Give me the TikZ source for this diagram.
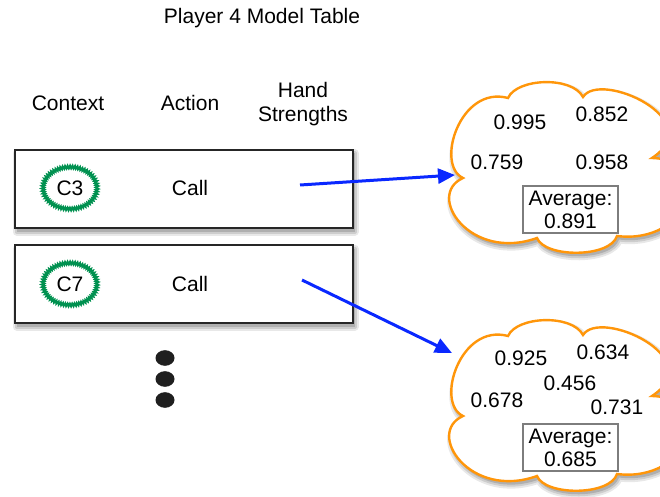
\documentclass[tikz,border=0pt]{standalone}
\usepackage{fontspec}
\setmainfont{Liberation Sans}
\usetikzlibrary{arrows.meta,shapes.geometric,decorations.pathmorphing}

\definecolor{ctxgreen}{RGB}{0,145,80}
\definecolor{linkblue}{RGB}{10,40,255}
\definecolor{puffborder}{RGB}{255,150,10}
\definecolor{avgframe}{RGB}{125,125,125}
\definecolor{shadeA}{RGB}{232,232,232}
\definecolor{shadeB}{RGB}{205,205,205}
\definecolor{shadeC}{RGB}{175,175,175}

\tikzset{
  % soft shadow: graded grey bands on a copy of the outline shifted down-right
  shadowouter/.style={draw=shadeA, fill=shadeA, line width=8pt, line join=round},
  shadowmid/.style={draw=shadeB, fill=shadeB, line width=4pt, line join=round},
  shadowinner/.style={fill=shadeC},
  txt/.style={font=\fontsize{21}{25}\selectfont, inner sep=0pt},
  rowbox/.style={draw=black!85, line width=1.2pt, fill=white},
  ctxtag/.style={ellipse, draw=ctxgreen, line width=2pt, minimum width=54pt, minimum height=42pt,
    inner sep=0pt, font=\fontsize{21}{25}\selectfont,
    decorate, decoration={zigzag, segment length=2.4pt, amplitude=1.3pt}},
  link/.style={draw=linkblue, line width=3pt, -{Triangle[length=17pt,width=15pt]}},
  puff/.style={draw=puffborder, line width=2.4pt, fill=white},
  avgbox/.style={draw=avgframe, line width=2.2pt, fill=white, minimum width=95pt, minimum height=47pt,
    align=center, inner sep=1pt, font=\fontsize{21}{23}\selectfont},
  puffcloud/.pic={
    \foreach \layer in {shadowouter,shadowmid,shadowinner}{
      \path[\layer, shift={(2,3.5)}] (18,96)
        .. controls (-10,83) and (15,3) .. (63,16)
        .. controls (72,-4) and (127,-6) .. (138,15)
        .. controls (155,-12) and (265,38) .. (207,76)
        .. controls (275,78) and (245,163) .. (172,154)
        .. controls (165,176) and (100,176) .. (92,156)
        .. controls (25,180) and (-20,113) .. cycle;
    }
    \path[puff] (18,96)
      .. controls (-10,83) and (15,3) .. (63,16)
      .. controls (72,-4) and (127,-6) .. (138,15)
      .. controls (155,-12) and (265,38) .. (207,76)
      .. controls (275,78) and (245,163) .. (172,154)
      .. controls (165,176) and (100,176) .. (92,156)
      .. controls (25,180) and (-20,113) .. cycle;
  }
}

\begin{document}
\begin{tikzpicture}[x=1pt, y=-1pt]
  \useasboundingbox (0,0) rectangle (660,497);
  \begin{scope}
    \clip (0,0) rectangle (660,497);

    % title and column headings
    \node[txt] (title) at (262,18) {Player 4 Model Table};
    \node[txt] (hctx) at (68,103) {Context};
    \node[txt] (hact) at (190,103) {Action};
    \node[txt, align=center, font=\fontsize{21}{24.5}\selectfont] (hhand) at (303,104) {Hand\\Strengths};

    % table rows with their shadows
    \foreach \layer in {shadowouter,shadowmid,shadowinner}{
      \path[\layer] (16.5,153.5) rectangle (354.5,231.5);
      \path[\layer] (16.5,248.5) rectangle (354.5,326.5);
    }
    \path[rowbox] (15,150) rectangle (353,228);
    \path[rowbox] (15,245) rectangle (353,323);
    \node[ctxtag] (c3) at (70,188) {C3};
    \node[txt] (call3) at (190,188) {Call};
    \node[ctxtag] (c7) at (70,284) {C7};
    \node[txt] (call7) at (190,284) {Call};
    \coordinate (hs3) at (300,185);
    \coordinate (hs7) at (302,280);

    % ellipsis dots
    \fill[black!88] (165,358) ellipse [x radius=9.5pt, y radius=7.8pt];
    \fill[black!88] (165,379) ellipse [x radius=9.5pt, y radius=7.8pt];
    \fill[black!88] (165,400) ellipse [x radius=9.5pt, y radius=7.8pt];

    % hand strength clouds
    \pic at (445,82) {puffcloud};
    \pic at (445,320) {puffcloud};
    \coordinate (cloudin3) at (455,175);
    \coordinate (cloudin7) at (452,353);

    \node[txt] (v11) at (520,122) {0.995};
    \node[txt] (v12) at (602,114) {0.852};
    \node[txt] (v13) at (497,162) {0.759};
    \node[txt] (v14) at (602,162) {0.958};
    \node[avgbox] (avg3) at (570.5,209.5) {Average:\\0.891};

    \node[txt] (v21) at (521,358) {0.925};
    \node[txt] (v22) at (603,352) {0.634};
    \node[txt] (v23) at (570,383) {0.456};
    \node[txt] (v24) at (497,400) {0.678};
    \node[txt] (v25) at (617,407) {0.731};
    \node[avgbox] (avg7) at (570.5,447.5) {Average:\\0.685};

    % links from rows to clouds
    \draw[link] (hs3) -- (cloudin3);
    \draw[link] (hs7) -- (cloudin7);
  \end{scope}
\end{tikzpicture}
\end{document}
